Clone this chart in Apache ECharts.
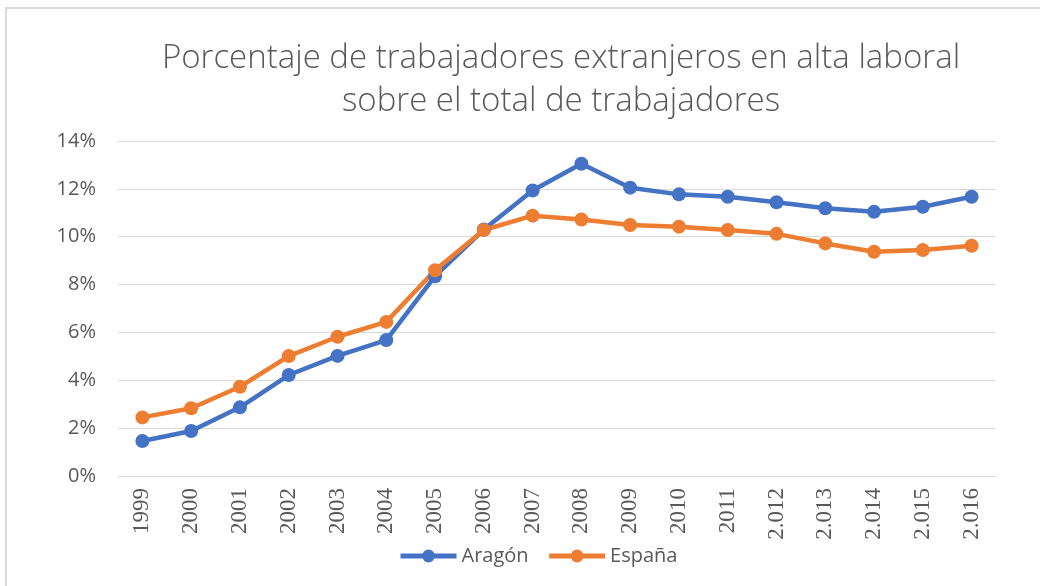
<!DOCTYPE html>
<html>
<head>
<meta charset="utf-8">
<script src="https://cdn.jsdelivr.net/npm/echarts@6/dist/echarts.min.js"></script>
<style>
  html, body { margin: 0; padding: 0; background: #fff; }
  #chart { width: 1040px; height: 586px; }
</style>
</head>
<body>
<div id="chart"></div>
<script>
// data
const years = ['1999', '2000', '2001', '2002', '2003', '2004', '2005', '2006', '2007',
  '2008', '2009', '2010', '2011', '2.012', '2.013', '2.014', '2.015', '2.016'];
const aragon = [1.46, 1.88, 2.87, 4.22, 5.02, 5.68, 8.35, 10.3, 11.93,
  13.05, 12.05, 11.77, 11.67, 11.44, 11.19, 11.04, 11.25, 11.67];
const espana = [2.45, 2.83, 3.73, 5.01, 5.82, 6.44, 8.6, 10.28, 10.88,
  10.72, 10.49, 10.42, 10.28, 10.12, 9.72, 9.37, 9.44, 9.62];
const yTicks = [0, 2, 4, 6, 8, 10, 12, 14];

const chart = echarts.init(document.getElementById('chart'));
const grey = '#595959';

chart.setOption({
  backgroundColor: '#fff',
  animation: false,
  graphic: [{
    type: 'rect',
    shape: { x: 6, y: 8, width: 1040, height: 600 },
    style: { fill: 'none', stroke: '#d9d9d9', lineWidth: 2 }
  }],
  title: {
    text: 'Porcentaje de trabajadores extranjeros en alta laboral\nsobre el total de trabajadores',
    left: 556,
    textAlign: 'center',
    top: 32,
    textStyle: {
      fontFamily: 'Open Sans',
      fontWeight: 300,
      fontSize: 33,
      lineHeight: 43,
      color: grey
    }
  },
  legend: {
    left: 393,
    top: 541,
    itemWidth: 56,
    itemHeight: 16,
    itemGap: 18,
    lineStyle: { width: 5 },
    textStyle: { fontFamily: 'Open Sans', fontSize: 20, color: grey }
  },
  grid: { left: 118, right: 44, top: 141, bottom: 110 },
  xAxis: {
    type: 'category',
    data: years,
    boundaryGap: true,
    axisLine: { lineStyle: { color: '#d9d9d9' } },
    axisTick: { show: false },
    axisLabel: {
      rotate: 90,
      margin: 12,
      fontFamily: 'Liberation Serif',
      fontSize: 23,
      color: grey
    }
  },
  yAxis: {
    type: 'value',
    min: yTicks[0],
    max: yTicks[yTicks.length - 1],
    interval: 2,
    axisLine: { show: false },
    axisTick: { show: false },
    splitLine: { lineStyle: { color: '#d9d9d9', width: 1 } },
    axisLabel: {
      margin: 22,
      fontFamily: 'Open Sans',
      fontSize: 20,
      color: grey,
      formatter: v => v + '%'
    }
  },
  series: [
    {
      name: 'Aragón',
      type: 'line',
      data: aragon,
      symbol: 'circle',
      symbolSize: 14,
      lineStyle: { width: 4.5, color: '#4472C4' },
      itemStyle: { color: '#4472C4' }
    },
    {
      name: 'España',
      type: 'line',
      data: espana,
      symbol: 'circle',
      symbolSize: 14,
      lineStyle: { width: 4.5, color: '#ED7D31' },
      itemStyle: { color: '#ED7D31' }
    }
  ]
});
</script>
</body>
</html>
